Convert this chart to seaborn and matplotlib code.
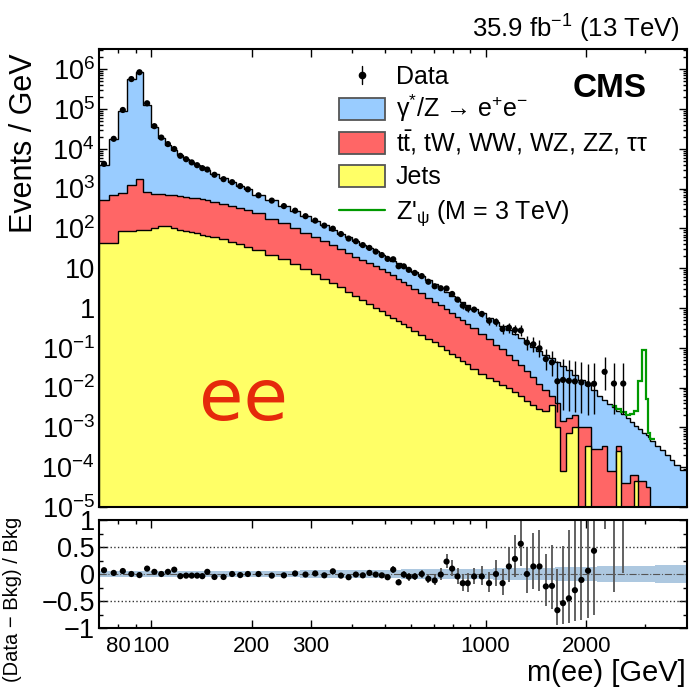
import numpy as np
import pandas as pd
import matplotlib
matplotlib.use("Agg")
import matplotlib.pyplot as plt
import seaborn as sns
from matplotlib.patches import Rectangle
from matplotlib.lines import Line2D
from matplotlib.ticker import LogLocator, NullFormatter

# ---------------- values ----------------
bin_edges = [70, 75, 80, 85, 90, 95, 100, 105, 110, 115, 120, 125, 130, 135, 140, 145, 150,
             160, 170, 180, 190, 200,
             220, 240, 260, 280, 300, 320, 340, 360, 380, 400, 420, 440, 460, 480, 500, 520, 540, 560, 580, 600,
             630, 660, 690, 720, 750, 780, 810, 840, 870, 900,
             950, 1000, 1050, 1100, 1150, 1200, 1250, 1300,
             1360, 1420, 1480, 1550, 1610, 1670, 1740, 1810, 1890, 1980,
             2070, 2150, 2230, 2310, 2380, 2460, 2540, 2620, 2700, 2780,
             2860, 2930, 3020, 3060, 3110, 3210, 3320, 3430, 3550, 3670,
             3800, 4000]

# log10(events / GeV): top of the full stack (gamma*/Z on top)
log_total_bkg = [3.59, 4.24, 4.95, 5.75, 5.93, 5.10,
                 4.55, 4.28, 4.10, 3.96, 3.84, 3.75, 3.67, 3.60, 3.53, 3.46,
                 3.37, 3.26, 3.16, 3.07, 2.98,
                 2.83, 2.71, 2.57, 2.44, 2.31, 2.19, 2.08, 1.97, 1.87, 1.77, 1.68, 1.59, 1.50, 1.42, 1.34, 1.26, 1.19, 1.12, 1.05, 0.98,
                 0.90, 0.80, 0.70, 0.60, 0.50, 0.40, 0.31, 0.23, 0.14, 0.07,
                 -0.02, -0.13, -0.24, -0.35, -0.45, -0.55, -0.66, -0.76,
                 -0.87, -0.97, -1.07, -1.17, -1.26, -1.36, -1.47, -1.57, -1.69, -1.82,
                 -1.94, -2.06, -2.20, -2.32, -2.41, -2.49, -2.58, -2.67, -2.77, -2.87,
                 -2.97, -3.05, -3.13, -3.19, -3.24, -3.33, -3.46, -3.58, -3.70, -3.82,
                 -3.94, -4.07]

# log10 of the top of the (jets + ttbar & other) layer
log_jets_plus_other = [2.70, 2.83, 2.88, 3.10, 3.25, 2.91,
                       2.87, 2.86, 2.85, 2.83, 2.81, 2.79, 2.77, 2.75, 2.73, 2.70,
                       2.67, 2.62, 2.57, 2.52, 2.46,
                       2.38, 2.24, 2.13, 2.00, 1.89, 1.79, 1.68, 1.58, 1.47, 1.37, 1.29, 1.21, 1.13, 1.05, 0.98, 0.90, 0.82, 0.74, 0.66, 0.58,
                       0.48, 0.37, 0.26, 0.16, 0.07, -0.02, -0.12, -0.22, -0.31, -0.41,
                       -0.51, -0.65, -0.79, -0.92, -1.04, -1.17, -1.30, -1.43,
                       -1.58, -1.74, -1.90, -2.05, -2.20, -2.40, -2.84, -2.76, -2.70, -3.00,
                       -3.00, -3.55, -3.55, -3.47, -4.10, -4.10, -3.47, -4.40, -4.40, -4.20,
                       -4.20, -4.35, -4.35, -4.50, -4.50, None, None, None, None, None,
                       None, None]

# log10 of the jets layer (bottom)
log_jets = [1.63, 1.63, 1.93, 1.93, 1.97, 1.97,
            2.02, 2.05, 2.05, 2.00, 1.96, 1.94, 1.90, 1.88, 1.84, 1.82,
            1.78, 1.72, 1.66, 1.60, 1.54,
            1.45, 1.34, 1.22, 1.10, 0.98, 0.86, 0.74, 0.63, 0.52, 0.41, 0.31, 0.21, 0.11, 0.01, -0.08, -0.17, -0.25, -0.33, -0.41, -0.49,
            -0.58, -0.68, -0.77, -0.86, -0.95, -1.05, -1.15, -1.24, -1.33, -1.42,
            -1.54, -1.65, -1.75, -1.84, -1.93, -2.02, -2.12, -2.22,
            -2.33, -2.45, -2.55, -2.60, -2.45, -3.00, -4.10, -3.14, -3.00, None,
            -3.47, None, None, None, None, None, -3.60, None, None, None,
            -4.35, None, None, None, None, None, None, None, None, None,
            None, None]

# (Data - Bkg) / Bkg per bin (-1 = no data)
ratio = [0.07, 0.02, 0.055, 0.0, -0.02, 0.10,
         0.04, 0.0, 0.04, 0.08, -0.04, -0.03, -0.03, -0.03, -0.04, 0.04,
         -0.055, -0.055, 0.0, -0.02, 0.0,
         0.0, -0.03, -0.025, 0.01, -0.01, 0.01, -0.025, 0.05, -0.03, -0.06, -0.01, -0.025, 0.02, -0.01, -0.025, -0.06, 0.08, -0.155, -0.01, -0.05,
         -0.045, 0.0, -0.09, -0.12, -0.01, 0.23, 0.10, -0.045, -0.17, -0.17,
         -0.045, -0.045, -0.17, 0.0, -0.17, 0.14, 0.28, 0.56,
         0.0, 0.14, 0.14, -0.23, -0.22, -0.67, -0.54, -0.45, -0.30, -0.11,
         0.06, 0.43, -1, 4.2, -1, 2.9, -1, 4.9, -1, -1,
         -1, -1, -1, -1, -1, -1, -1, -1, -1, -1,
         -1, -1]

# half width of the background uncertainty band in the ratio
band_halfwidth = [0.05] * 21 + [0.06, 0.06, 0.06, 0.06, 0.065, 0.065, 0.065, 0.07, 0.07, 0.07, 0.07, 0.075, 0.075, 0.075, 0.08, 0.08, 0.08, 0.08, 0.085, 0.085,
                                0.09, 0.09, 0.09, 0.09, 0.09, 0.095, 0.095, 0.095, 0.095, 0.095,
                                0.10, 0.10, 0.10, 0.105, 0.105, 0.11, 0.11, 0.11, 0.115, 0.115, 0.12, 0.12,
                                0.12, 0.125, 0.125, 0.13, 0.13, 0.13, 0.135, 0.135,
                                0.14, 0.14, 0.14, 0.145, 0.145, 0.145, 0.15, 0.15, 0.15, 0.15, 0.155, 0.155, 0.155, 0.155, 0.16, 0.16, 0.16, 0.165, 0.165, 0.17]

# Z'_psi (3 TeV) + background, log10, starting at bin index 74 (0-based)
zprime_first_bin = 74
log_zprime_plus_bkg = [-2.46, -2.54, -2.62, -2.70, -2.67, -2.59, -1.83, -1.05, -2.29, -3.15, -3.30]

y_tick_values = [1e-5, 1e-4, 1e-3, 1e-2, 1e-1, 1, 10, 1e2, 1e3, 1e4, 1e5, 1e6]
y_tick_labels = [r'$10^{-5}$', r'$10^{-4}$', r'$10^{-3}$', r'$10^{-2}$', r'$10^{-1}$', '1', '10',
                 r'$10^{2}$', r'$10^{3}$', r'$10^{4}$', r'$10^{5}$', r'$10^{6}$']
x_major_ticks = [100, 200, 300, 1000, 2000]
x_major_labels = ['100', '200', '300', '1000', '2000']
x_minor_ticks = [80, 90, 400, 500, 600, 700, 800, 900, 3000]
x_minor_labels = ['80', '', '', '', '', '', '', '', '']
r_ticks = [-1, -0.5, 0, 0.5, 1]
r_labels = ['\u22121', '\u22120.5', '0', '0.5', '1']
r_minor_ticks = [-0.75, -0.25, 0.25, 0.75]

legend_labels = ['Data',
                 '\u03b3$^{*}$/Z \u2192 e$^{+}$e$^{-}$',
                 r'$\mathrm{t\bar{t}}$, tW, WW, WZ, ZZ, ' + '\u03c4\u03c4',
                 'Jets',
                 "Z'$_{\u03c8}$ (M = 3 TeV)"]
colors = {'dy': '#99ccff', 'other': '#ff6666', 'jets': '#ffff66'}
zp_color = '#009900'

# ---------------- style ----------------
sns.set_theme(style='ticks')
plt.rcParams['font.family'] = ['Liberation Sans', 'DejaVu Sans']
plt.rcParams['mathtext.fontset'] = 'custom'
plt.rcParams['mathtext.rm'] = 'Liberation Sans'
plt.rcParams['mathtext.it'] = 'Liberation Sans:italic'
plt.rcParams['mathtext.bf'] = 'Liberation Sans:bold'
plt.rcParams['mathtext.default'] = 'regular'
for k in ['axes.edgecolor', 'text.color', 'xtick.color', 'ytick.color', 'axes.labelcolor']:
    plt.rcParams[k] = 'black'


def to_lin(a):
    arr = np.array([np.nan if v is None else v for v in a], dtype=float)
    return np.nan_to_num(np.power(10.0, arr), nan=0.0)


edges = np.array(bin_edges, dtype=float)
widths = np.diff(edges)
centers = np.sqrt(edges[:-1] * edges[1:])
total = to_lin(log_total_bkg)
red = to_lin(log_jets_plus_other)
jets = to_lin(log_jets)
n = len(centers)
FLOOR = 1e-12

ratio_arr = np.array(ratio, dtype=float)
data = total * (1.0 + ratio_arr)
has_data = ratio_arr > -1
counts = np.where(has_data, np.maximum(1, np.round(data * widths)), 0)

garwood = {1: (0.173, 3.300), 2: (0.708, 4.638), 3: (1.367, 5.918), 4: (2.086, 7.163),
           5: (2.840, 8.382), 6: (3.620, 9.584), 7: (4.419, 10.77), 8: (5.232, 11.95),
           9: (6.057, 13.11), 10: (6.891, 14.27)}
lo_c = np.zeros(n)
hi_c = np.zeros(n)
for i in range(n):
    c = int(counts[i])
    if c == 0:
        continue
    if c in garwood:
        lo_c[i], hi_c[i] = garwood[c]
    else:
        lo_c[i], hi_c[i] = c - np.sqrt(c), c + np.sqrt(c) + 1
scale = np.where(counts > 0, data / np.maximum(counts, 1), 0)
data_lo = lo_c * scale
data_hi = hi_c * scale

# ---------------- figure ----------------
W, H = 690, 688
fig = plt.figure(figsize=(W / 100, H / 100), dpi=100)
ax = fig.add_axes([99 / W, 1 - 507 / H, 588 / W, (507 - 49) / H])
rax = fig.add_axes([99 / W, 1 - 628 / H, 588 / W, (628 - 520) / H])
ax.set_xscale('log')
ax.set_yscale('log')

# stacked backgrounds (drawn back to front: full stack, then red+yellow, then yellow)
for level, key in [(total, 'dy'), (red, 'other'), (jets, 'jets')]:
    ax.stairs(np.maximum(level, FLOOR), edges, baseline=FLOOR, fill=True,
              facecolor=colors[key], edgecolor='black', lw=1.0, zorder=2)

m = has_data
ax.errorbar(centers[m], data[m], yerr=[data[m] - data_lo[m], data_hi[m] - data[m]],
            fmt='none', ecolor='black', elinewidth=1.0, capsize=0, zorder=6)
pts = pd.DataFrame({'mass': centers[m], 'data': data[m], 'ratio': ratio_arr[m]})
sns.scatterplot(data=pts, x='mass', y='data', ax=ax, color='black', s=20,
                edgecolor='none', zorder=7, legend=False)

zp_vals = to_lin(log_zprime_plus_bkg)
zp_edges = edges[zprime_first_bin:zprime_first_bin + len(zp_vals) + 1]
ax.stairs(zp_vals, zp_edges, color=zp_color, lw=1.6, baseline=None, zorder=5)

ax.set_xlim(70, 4000)
ax.set_ylim(1e-5, 3.2e6)
ax.set_xlabel('')
ax.set_ylabel('')
ax.set_yticks(y_tick_values, labels=y_tick_labels)
ax.yaxis.set_minor_locator(LogLocator(base=10, subs=np.arange(2, 10), numticks=50))
ax.yaxis.set_minor_formatter(NullFormatter())
ax.set_xticks(x_major_ticks)
ax.set_xticks(x_minor_ticks, minor=True)
ax.tick_params(labelbottom=False)

# ratio panel
band_hw = np.array(band_halfwidth)
rax.set_xscale('log')
rax.stairs(band_hw, edges, baseline=-band_hw, fill=True, color='#9fbfdb', alpha=0.85, lw=0, zorder=1)
rax.axhline(0.5, ls=':', color='#333333', lw=1.0, zorder=2)
rax.axhline(-0.5, ls=':', color='#333333', lw=1.0, zorder=2)
rax.axhline(0.0, ls='-.', color='#555555', lw=0.8, zorder=2)
r_lo = data_lo / total - 1
r_hi = data_hi / total - 1
rax.errorbar(centers[m], ratio_arr[m], yerr=[ratio_arr[m] - r_lo[m], r_hi[m] - ratio_arr[m]],
             fmt='none', ecolor='#555555', elinewidth=1.3, capsize=0, zorder=5)
sns.scatterplot(data=pts, x='mass', y='ratio', ax=rax, color='black', s=20,
                edgecolor='none', zorder=7, legend=False)
rax.set_xlim(70, 4000)
rax.set_ylim(-1, 1)
rax.set_xlabel('')
rax.set_ylabel('')
rax.set_xticks(x_major_ticks, labels=x_major_labels)
rax.set_xticks(x_minor_ticks, labels=x_minor_labels, minor=True)
rax.set_yticks(r_ticks, labels=r_labels)
rax.set_yticks(r_minor_ticks, minor=True)

for a in (ax, rax):
    a.tick_params(which='both', direction='in', top=True, right=True, width=1.0)
    a.tick_params(which='major', length=6)
    a.tick_params(which='minor', length=3)
    for s in a.spines.values():
        s.set_linewidth(1.5)
        s.set_color('black')
        s.set_zorder(10)
ax.tick_params(axis='y', which='major', labelsize=19.5, pad=3)
rax.tick_params(axis='y', which='major', labelsize=19.5, pad=3)
rax.tick_params(axis='x', which='both', labelsize=16, pad=6)


# ---------------- legend (placed by hand, ROOT style) ----------------
def fx(px):
    return px / W


def fy(py):
    return 1 - py / H


row_centres = [75, 109, 143, 176, 210]
box_l, box_r, box_h = 339, 385, 22
for i, (yc, lab) in enumerate(zip(row_centres, legend_labels)):
    if i == 0:
        fig.add_artist(Line2D([fx(362), fx(362)], [fy(yc - 9), fy(yc + 9)], color='black', lw=1.0))
        fig.add_artist(Line2D([fx(362)], [fy(yc)], marker='o', ms=4.5, color='black', lw=0))
    elif i in (1, 2, 3):
        key = ['dy', 'other', 'jets'][i - 1]
        fig.add_artist(Rectangle((fx(box_l), fy(yc + box_h / 2)), (box_r - box_l) / W, box_h / H,
                                 transform=fig.transFigure, facecolor=colors[key],
                                 edgecolor='#555555', lw=1.3))
    else:
        fig.add_artist(Line2D([fx(box_l), fx(box_r)], [fy(yc), fy(yc)], color=zp_color, lw=1.6))
    fig.text(fx(396), fy(yc + 8.5), lab, ha='left', va='baseline', fontsize=18)

# texts
fig.text(fx(680), fy(38), '35.9 fb$^{-1}$ (13 TeV)', ha='right', va='baseline', fontsize=18.5)
fig.text(fx(647), fy(97), 'CMS', ha='right', va='baseline', fontsize=24, fontweight='bold')
fig.text(fx(243), fy(420), 'ee', ha='center', va='baseline', fontsize=52,
         color='#e52a0b', family=['DejaVu Sans'])
fig.text(fx(24.5), fy(53), 'Events / GeV', rotation=90, ha='center', va='top', fontsize=22)
fig.text(fx(12.5), fy(517), '(Data \u2212 Bkg) / Bkg', rotation=90, ha='center', va='top', fontsize=14.5)
fig.text(fx(686), fy(681), 'm(ee) [GeV]', ha='right', va='baseline', fontsize=21)

fig.savefig('out.png', dpi=100)
